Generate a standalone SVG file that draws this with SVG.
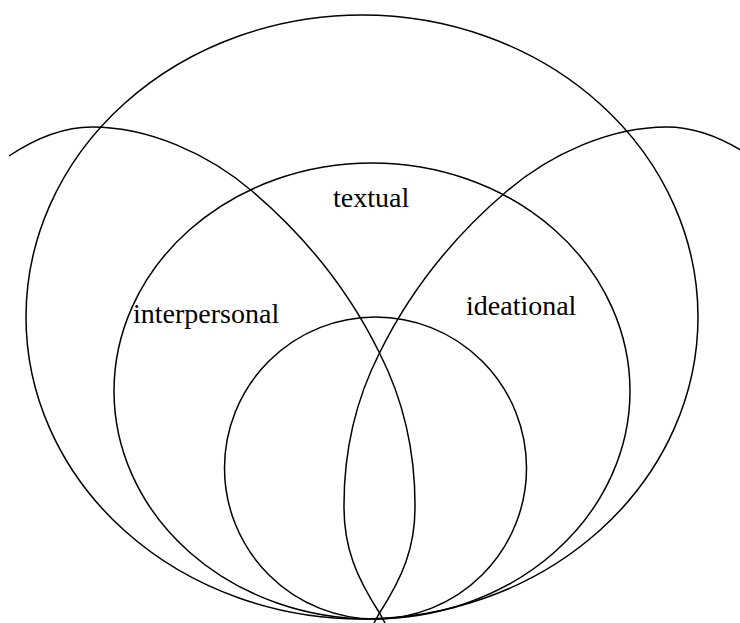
<svg xmlns="http://www.w3.org/2000/svg" width="740" height="623" viewBox="0 0 740 623">
<style>
.c{fill:none;stroke:#000;stroke-width:1.5}
.t{font-family:"Liberation Serif","Times New Roman",serif;font-size:28px;fill:#000}
</style>
<defs>
<path id="arc" d="M 9 156 C 33 140 63 127 92 127 C 149 127 208.5 154 252 191 C 304.6 235.7 349.2 291.3 379.5 353 C 403.2 399.5 415 453 415 505 C 415.5 548 402 578 379.5 613 L 374 623"/>
</defs>
<rect width="740" height="623" fill="#fff"/>
<g id="outer"><ellipse class="c" cx="362" cy="317" rx="336" ry="302"/></g>
<g id="textual"><ellipse class="c" cx="372" cy="391" rx="258" ry="228"/><text class="t" x="333" y="207">textual</text></g>
<g id="core"><circle class="c" cx="375.5" cy="468" r="151"/></g>
<g id="interpersonal"><use href="#arc" class="c"/><text class="t" x="133" y="323">interpersonal</text></g>
<g id="ideational"><use href="#arc" class="c" transform="translate(759,0) scale(-1,1)"/><text class="t" x="466" y="315">ideational</text></g>
</svg>
